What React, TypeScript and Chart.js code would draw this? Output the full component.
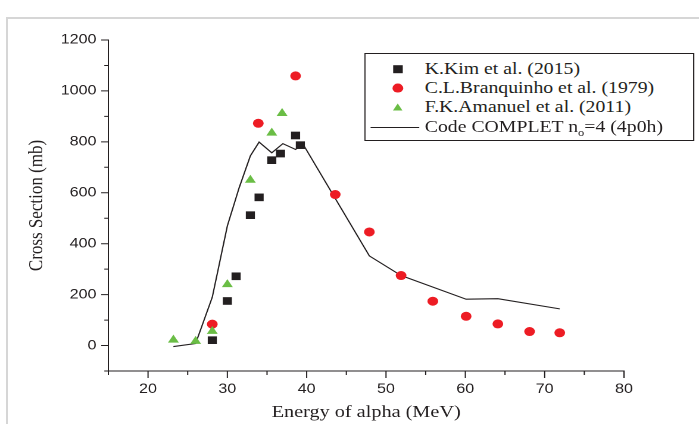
import React, { useEffect, useRef } from "react";
import { Chart, registerables } from "chart.js";

Chart.register(...registerables);

// ---- Data ----
const kimEnergy = [28.1, 30.0, 31.1, 32.9, 34.0, 35.6, 36.7, 38.6, 39.2];
const kimSigma = [21, 175, 272, 512, 582, 728, 754, 825, 787];

const branqEnergy = [28.1, 33.9, 38.6, 43.6, 47.9, 51.9, 55.9, 60.1, 64.1, 68.1, 71.9];
const branqSigma = [84, 873, 1059, 593, 446, 275, 174, 115, 85, 55, 50];

const amanEnergy = [23.2, 26.0, 28.1, 30.0, 32.9, 35.6, 36.9];
const amanSigma = [22, 17, 56, 240, 650, 835, 912];

const completEnergy = [23.2, 26.0, 28.1, 30.0, 31.5, 32.9, 34.0, 35.6, 37.0, 38.6, 39.5, 47.9, 51.9, 60.1, 64.1, 71.9];
const completSigma = [-4, 8, 190, 470, 621, 745, 799, 757, 793, 770, 793, 352, 275, 182, 184, 144];

const xTickLabels = [20, 30, 40, 50, 60, 70, 80];
const yTickLabels = [0, 200, 400, 600, 800, 1000, 1200];

const legendLabels = [
  "K.Kim et al. (2015)",
  "C.L.Branquinho et al. (1979)",
  "F.K.Amanuel et al. (2011)",
];

const INK = "#231f20";
const RED = "#ed1c24";
const GREEN = "#6abd45";

// the reference figure is stretched horizontally; draw at a logical width and stretch
const LOGICAL_W = 587;
const H = 424;
const STRETCH = 699 / LOGICAL_W;

const toPts = (xs: number[], ys: number[]) => xs.map((x, i) => ({ x, y: ys[i] }));

const axisTicksPlugin = {
  id: "axisTicks",
  afterDraw(chart: any) {
    const { ctx } = chart;
    const xs = chart.scales.x;
    const ys = chart.scales.y;
    ctx.save();
    ctx.strokeStyle = INK;
    ctx.lineWidth = 1;
    ctx.beginPath();
    for (const t of ys.ticks) {
      const major = yTickLabels.includes(t.value);
      const len = major ? 6 : 3.4;
      const py = ys.getPixelForValue(t.value);
      ctx.moveTo(xs.left - len, py);
      ctx.lineTo(xs.left, py);
    }
    for (const t of xs.ticks) {
      const major = xTickLabels.includes(t.value);
      const len = major ? 7 : 4;
      const px = xs.getPixelForValue(t.value);
      ctx.moveTo(px, ys.bottom);
      ctx.lineTo(px, ys.bottom + len);
    }
    ctx.stroke();
    ctx.restore();
  },
};

function LegendSymbol({ kind }: { kind: number }) {
  if (kind === 0) return <div style={{ width: 7.6, height: 7.6, background: INK }} />;
  if (kind === 1)
    return <div style={{ width: 8.8, height: 8.8, borderRadius: "50%", background: RED }} />;
  return (
    <div
      style={{
        width: 0,
        height: 0,
        borderLeft: "4.6px solid transparent",
        borderRight: "4.6px solid transparent",
        borderBottom: `7.8px solid ${GREEN}`,
      }}
    />
  );
}

export default function App() {
  const canvasRef = useRef<HTMLCanvasElement | null>(null);

  useEffect(() => {
    if (!canvasRef.current) return;
    const chart = new Chart(canvasRef.current, {
      type: "scatter",
      data: {
        datasets: [
          {
            label: legendLabels[0],
            data: toPts(kimEnergy, kimSigma),
            pointStyle: "rect",
            pointRadius: 5.4,
            backgroundColor: INK,
            borderWidth: 0,
            order: 0,
          },
          {
            label: legendLabels[2],
            data: toPts(amanEnergy, amanSigma),
            pointStyle: "triangle",
            pointRadius: 5.3,
            backgroundColor: GREEN,
            borderWidth: 0,
            order: 1,
          },
          {
            label: legendLabels[1],
            data: toPts(branqEnergy, branqSigma),
            pointStyle: "circle",
            pointRadius: 4.5,
            backgroundColor: RED,
            borderWidth: 0,
            order: 2,
          },
          {
            label: "Code COMPLET no=4 (4p0h)",
            data: toPts(completEnergy, completSigma),
            showLine: true,
            pointRadius: 0,
            borderColor: INK,
            borderWidth: 1.1,
            backgroundColor: INK,
            order: 3,
          },
        ] as any,
      },
      options: {
        animation: false,
        responsive: true,
        maintainAspectRatio: false,
        devicePixelRatio: 2,
        layout: { padding: { left: 0, top: 40, right: 63, bottom: 0 } },
        plugins: { legend: { display: false }, tooltip: { enabled: false } },
        scales: {
          x: {
            type: "linear",
            min: 15,
            max: 80,
            afterFit: (s: any) => {
              s.height = 53;
            },
            ticks: {
              stepSize: 5,
              autoSkip: false,
              maxRotation: 0,
              padding: 10,
              color: INK,
              font: { family: "'Liberation Sans', Arial, sans-serif", size: 13.5 },
              callback: (v: any) => (xTickLabels.includes(v) ? String(v) : ""),
            },
            grid: { display: true, drawOnChartArea: false, drawTicks: false },
            border: { display: true, color: INK, width: 1 },
            title: {
              display: true,
              text: "Energy of alpha (MeV)",
              color: INK,
              font: { family: "'Liberation Serif', 'Times New Roman', serif", size: 17 },
              padding: { top: 0, bottom: 1.5 },
            },
          },
          y: {
            type: "linear",
            min: -100,
            max: 1200,
            afterFit: (s: any) => {
              s.width = 91;
            },
            ticks: {
              stepSize: 100,
              autoSkip: false,
              padding: 10,
              color: INK,
              font: { family: "'Liberation Sans', Arial, sans-serif", size: 13.5 },
              callback: (v: any) => (yTickLabels.includes(v) ? String(v) : ""),
            },
            grid: { display: true, drawOnChartArea: false, drawTicks: false },
            border: { display: true, color: INK, width: 1 },
            title: {
              display: true,
              text: "Cross Section (mb)",
              color: INK,
              font: { family: "'Liberation Serif', 'Times New Roman', serif", size: 17 },
              padding: { top: 21, bottom: 0 },
            },
          },
        },
      },
      plugins: [axisTicksPlugin],
    });
    return () => chart.destroy();
  }, []);

  const serif = "'Liberation Serif', 'Times New Roman', serif";
  const rowTops = [15, 34, 53, 73];

  return (
    <div
      style={{
        position: "fixed",
        left: 0,
        top: 0,
        width: 699,
        height: H,
        overflow: "hidden",
        background: "#fff",
      }}
    >
      <div
        style={{
          position: "absolute",
          left: 6,
          top: 17,
          width: 760,
          height: 460,
          border: "2px solid #d6d6d6",
          boxSizing: "border-box",
        }}
      />
      <div
        style={{
          position: "absolute",
          left: 0,
          top: 0,
          width: LOGICAL_W,
          height: H,
          transform: `scaleX(${STRETCH})`,
          transformOrigin: "0 0",
        }}
      >
        <div style={{ position: "absolute", left: 0, top: 0, width: LOGICAL_W, height: H }}>
          <canvas ref={canvasRef} style={{ display: "block" }} />
        </div>
        <div
          style={{
            position: "absolute",
            left: 305.7,
            top: 53,
            width: 277,
            height: 88,
            border: `1px solid ${INK}`,
            boxSizing: "border-box",
            background: "#fff",
            fontFamily: serif,
            fontSize: 16.6,
            color: INK,
          }}
        >
          {rowTops.map((t, i) => (
            <div
              key={i}
              style={{
                position: "absolute",
                left: 0,
                top: t - 10,
                height: 20,
                width: 277,
              }}
            >
              {i === 3 ? (
                <div
                  style={{
                    position: "absolute",
                    left: 4,
                    top: 10,
                    width: 41,
                    height: 0,
                    borderTop: `1.1px solid ${INK}`,
                  }}
                />
              ) : (
                <div
                  style={{
                    position: "absolute",
                    left: 27.7,
                    top: 10,
                    transform: "translate(-50%, -50%)",
                  }}
                >
                  <LegendSymbol kind={i} />
                </div>
              )}
              <span
                style={{
                  position: "absolute",
                  left: 50,
                  top: 0,
                  whiteSpace: "nowrap",
                  lineHeight: "20px",
                }}
              >
                {i === 3 ? (
                  <>
                    Code COMPLET n<sub style={{ fontSize: 10.5, verticalAlign: -4 }}>o</sub>=4 (4p0h)
                  </>
                ) : (
                  legendLabels[i]
                )}
              </span>
            </div>
          ))}
        </div>
      </div>
    </div>
  );
}
